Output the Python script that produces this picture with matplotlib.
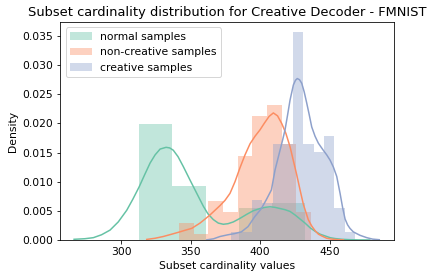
import matplotlib
matplotlib.use("Agg")
import matplotlib.pyplot as plt
import numpy as np

# Histogram bin edges and densities
normal_edges = [313.1, 337.0, 360.9, 384.8, 408.7, 432.6]
normal_dens = [0.0199, 0.0093, 0.0, 0.00555, 0.0064]

noncreative_edges = [341.7, 352.3, 362.8, 373.4, 383.9, 394.5, 405.1, 415.6, 426.2, 436.7]
noncreative_dens = [0.00297, 0.00103, 0.0067, 0.00475, 0.0144, 0.0212, 0.0232, 0.0164, 0.00475]

creative_edges = [379.4, 386.8, 394.2, 401.6, 409.0, 416.4, 423.8, 431.2, 438.6, 446.0, 453.4, 460.8, 468.2]
creative_dens = [0.00143, 0.00143, 0.00686, 0.0064, 0.0164, 0.0164, 0.0356, 0.0164, 0.0151, 0.0178, 0.00543, 0.00143]

# KDE curves
normal_kde_x = [266.2, 274.0, 280.1, 286.0, 292.1, 298.0, 304.1, 308.5, 313.0, 317.0, 320.9, 324.5,
                328.1, 332.4, 335.0, 337.6, 341.0, 344.8, 349.6,
                354.5, 359.2, 362.5, 366.4, 370.0, 373.6, 377.0, 380.8, 385.5, 390.4, 395.0, 400.0,
                403.5, 407.2, 410.8, 414.4, 418.0, 421.6, 425.2, 428.8,
                432.4, 436.0, 439.6, 443.2, 446.8, 450.4, 454.0, 459.0, 465.0, 471.0, 479.0]
normal_kde_y = [0.00012, 0.00022, 0.0004, 0.0009, 0.0017, 0.0031, 0.0051, 0.0070, 0.0091, 0.0112, 0.0132, 0.0146,
                0.0156, 0.0159, 0.0158, 0.0154, 0.0143, 0.0126, 0.0103,
                0.0080, 0.0058, 0.0045, 0.0035, 0.0029, 0.0027, 0.0028, 0.0031, 0.0037, 0.0044, 0.0050, 0.0054,
                0.0056, 0.0057, 0.0056, 0.0054, 0.0052, 0.0049, 0.0043, 0.0036,
                0.0029, 0.0021, 0.0015, 0.0010, 0.0007, 0.0004, 0.00025, 0.00012, 0.00005, 0.00002, 0.00001]

noncreative_kde_x = [318.5, 324.5, 330.4, 336.5, 342.4, 346.5, 350.9, 356.8, 360.5, 364.0, 367.6, 371.2, 374.8,
                     378.4, 382.0, 385.6, 389.2, 392.8, 396.4, 400.0,
                     403.0, 406.5, 409.6, 412.6, 415.6, 418.6, 421.6, 424.0, 426.4, 428.8, 431.2, 434.7,
                     437.2, 439.6, 442.0, 444.4, 448.0, 451.6, 456.0, 460.0]
noncreative_kde_y = [0.0001, 0.0003, 0.0006, 0.0010, 0.0014, 0.0017, 0.0020, 0.0029, 0.0036, 0.0043, 0.0051, 0.0059, 0.0068,
                     0.0080, 0.0100, 0.0124, 0.0146, 0.0165, 0.0178, 0.0189,
                     0.0200, 0.0212, 0.0218, 0.0213, 0.0200, 0.0183, 0.0160, 0.0136, 0.0112, 0.0086, 0.0061, 0.0035,
                     0.0024, 0.0016, 0.0010, 0.0007, 0.0003, 0.00015, 0.00005, 0.00002]

creative_kde_x = [361.7, 366.5, 371.2, 377.0, 381.8, 386.6, 391.4, 396.2, 401.0, 404.5, 408.2, 410.8, 412.6,
                  414.4, 416.2, 418.0, 419.8, 421.6, 424.0, 425.5, 426.8, 428.4, 430.0, 431.8, 433.6, 435.4,
                  437.2, 439.6, 442.0, 445.5, 448.0, 450.4, 452.8, 455.2, 457.6,
                  459.4, 461.2, 463.0, 464.7, 467.1, 469.5, 472.0, 476.8, 481.0, 485.8]
creative_kde_y = [0.00003, 0.0002, 0.0006, 0.0009, 0.0011, 0.0014, 0.0023, 0.0040, 0.0054, 0.0069, 0.0086, 0.0120, 0.0137,
                  0.0154, 0.0171, 0.0189, 0.0214, 0.0240, 0.0266, 0.0274, 0.0277, 0.0275, 0.0269, 0.0254, 0.0235, 0.0215,
                  0.0194, 0.0178, 0.0166, 0.0154, 0.0146, 0.0137, 0.0125, 0.0109, 0.0080,
                  0.0056, 0.0036, 0.0026, 0.0020, 0.0014, 0.0011, 0.0008, 0.0004, 0.00015, 0.00005]

labels = ["normal samples", "non-creative samples", "creative samples"]
colors = ["#66c2a5", "#fc8d62", "#8da0cb"]

plt.rcParams["font.size"] = 10.8

fig = plt.figure(figsize=(437 / 72, 278 / 72), dpi=72)
ax = fig.add_axes([60.3 / 437, 1 - 240 / 278, (394 - 60.3) / 437, (240 - 22) / 278])

series = [
    (normal_edges, normal_dens, normal_kde_x, normal_kde_y),
    (noncreative_edges, noncreative_dens, noncreative_kde_x, noncreative_kde_y),
    (creative_edges, creative_dens, creative_kde_x, creative_kde_y),
]
for (edges, dens, kx, ky), lab, col in zip(series, labels, colors):
    e = np.array(edges)
    ax.bar(e[:-1], dens, width=np.diff(e), align="edge", color=col, alpha=0.4,
           linewidth=0, label=lab)
    ax.plot(kx, ky, color=col, lw=1.5)

ax.set_xlim(256.3, 496.4)
ax.set_ylim(0, 0.0374)
ax.set_xticks([300, 350, 400, 450])
ax.set_yticks([0.0, 0.005, 0.010, 0.015, 0.020, 0.025, 0.030, 0.035])
ax.set_xlabel("Subset cardinality values")
ax.set_ylabel("Density")
ax.set_title("Subset cardinality distribution for Creative Decoder - FMNIST", fontsize=13)
ax.legend(loc="upper left")

fig.savefig("out.png", dpi=72)
